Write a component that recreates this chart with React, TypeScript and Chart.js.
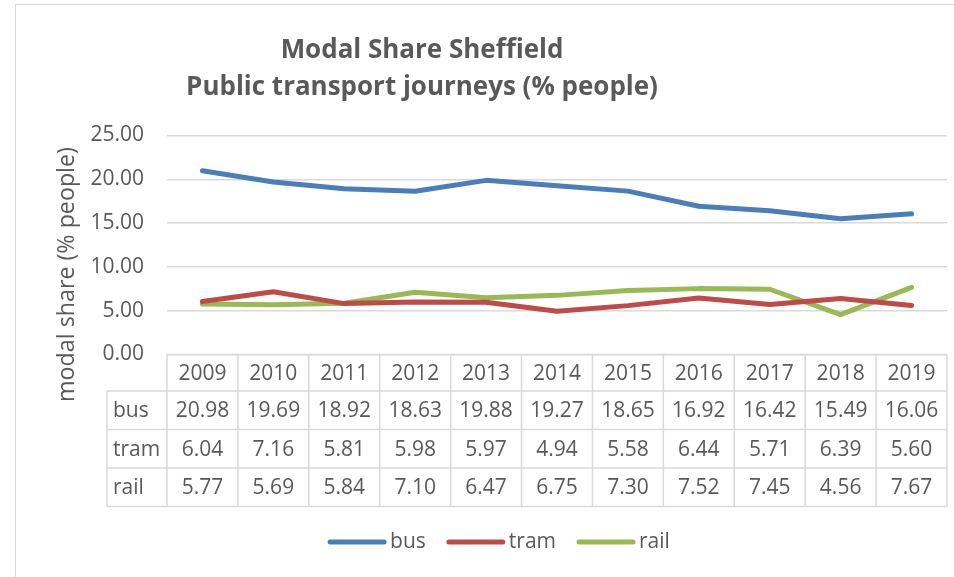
import React, { useEffect, useRef } from "react";
import { Chart, registerables } from "chart.js";

Chart.register(...registerables);

const years = ["2009", "2010", "2011", "2012", "2013", "2014", "2015", "2016", "2017", "2018", "2019"];
const bus = [20.98, 19.69, 18.92, 18.63, 19.88, 19.27, 18.65, 16.92, 16.42, 15.49, 16.06];
const tram = [6.04, 7.16, 5.81, 5.98, 5.97, 4.94, 5.58, 6.44, 5.71, 6.39, 5.6];
const rail = [5.77, 5.69, 5.84, 7.1, 6.47, 6.75, 7.3, 7.52, 7.45, 4.56, 7.67];
const seriesNames = ["bus", "tram", "rail"];
const seriesColors = ["#4A7EBB", "#BE4B48", "#98B954"];
const yMin = 0;
const yMax = 25;
const yStep = 5;
const titleLines = ["Modal Share Sheffield", "Public transport journeys (% people)"];
const yAxisTitle = "modal share (% people)";

const FONT = "'Open Sans', sans-serif";
const TEXT = "#595959";
const GRID = "#d9d9d9";

function fitSize(ctx: CanvasRenderingContext2D, text: string, weight: string, target: number) {
  ctx.font = `${weight} 100px ${FONT}`;
  const w = ctx.measureText(text).width;
  return (100 * target) / w;
}

const extrasPlugin = {
  id: "extras",
  afterDraw(chart: any) {
    const ctx: CanvasRenderingContext2D = chart.ctx;
    const area = chart.chartArea;
    const xs = chart.scales.x;
    const allSeries = [bus, tram, rail];
    ctx.save();

    // Title
    const tSize = fitSize(ctx, titleLines[1], "bold", 472);
    ctx.fillStyle = TEXT;
    ctx.textAlign = "center";
    ctx.textBaseline = "alphabetic";
    ctx.font = `bold ${tSize}px ${FONT}`;
    ctx.fillText(titleLines[0], 406, 53);
    ctx.fillText(titleLines[1], 406, 90);

    // Y axis title
    const ySize = fitSize(ctx, yAxisTitle, "normal", 255);
    ctx.save();
    ctx.translate(51, 269.5);
    ctx.rotate(-Math.PI / 2);
    ctx.font = `${ySize}px ${FONT}`;
    ctx.textBaseline = "middle";
    ctx.fillText(yAxisTitle, 0, 0);
    ctx.restore();

    // Data table
    const colW = xs.getPixelForValue(1) - xs.getPixelForValue(0);
    const headH = 36.5;
    const rowH = 38.5;
    const top = area.bottom;
    const headBottom = top + headH;
    const tableBottom = headBottom + rowH * allSeries.length;
    const labelLeft = area.left - 60;
    const right = xs.getPixelForValue(years.length - 1) + colW / 2;

    ctx.strokeStyle = GRID;
    ctx.lineWidth = 1.5;
    ctx.beginPath();
    ctx.moveTo(area.left, top);
    ctx.lineTo(right, top);
    for (let r = 0; r <= allSeries.length; r++) {
      const y = headBottom + r * rowH;
      ctx.moveTo(labelLeft, y);
      ctx.lineTo(right, y);
    }
    ctx.moveTo(labelLeft, headBottom);
    ctx.lineTo(labelLeft, tableBottom);
    for (let i = 0; i <= years.length; i++) {
      const x = xs.getPixelForValue(0) - colW / 2 + i * colW;
      ctx.moveTo(x, top);
      ctx.lineTo(x, tableBottom);
    }
    ctx.stroke();

    ctx.font = `21px ${FONT}`;
    ctx.fillStyle = TEXT;
    ctx.textBaseline = "middle";
    ctx.textAlign = "center";
    years.forEach((yr, i) => {
      ctx.fillText(yr, xs.getPixelForValue(i), top + headH / 2 + 1);
    });
    allSeries.forEach((vals, r) => {
      const cy = headBottom + r * rowH + rowH / 2 + 1;
      ctx.textAlign = "left";
      ctx.fillText(seriesNames[r], labelLeft + 6, cy);
      ctx.textAlign = "center";
      vals.forEach((v, i) => {
        ctx.fillText(v.toFixed(2), xs.getPixelForValue(i), cy);
      });
    });

    // Legend
    const lineLen = 58;
    const gap = 4;
    const itemGap = 21;
    ctx.font = `21px ${FONT}`;
    const widths = seriesNames.map((n) => lineLen + gap + ctx.measureText(n).width);
    const total = widths.reduce((a, b) => a + b, 0) + itemGap * (seriesNames.length - 1);
    let lx = 483 - total / 2;
    const ly = 537;
    seriesNames.forEach((n, i) => {
      ctx.strokeStyle = seriesColors[i];
      ctx.lineWidth = 5;
      ctx.lineCap = "round";
      ctx.beginPath();
      ctx.moveTo(lx + 2, ly);
      ctx.lineTo(lx + lineLen - 2, ly);
      ctx.stroke();
      ctx.fillStyle = TEXT;
      ctx.textAlign = "left";
      ctx.textBaseline = "middle";
      ctx.fillText(n, lx + lineLen + gap, ly);
      lx += widths[i] + itemGap;
    });

    ctx.restore();
  },
};

export default function App() {
  const ref = useRef<HTMLCanvasElement>(null);
  useEffect(() => {
    if (!ref.current) return;
    const data = [bus, tram, rail];
    const chart = new Chart(ref.current, {
      type: "line",
      data: {
        labels: years,
        datasets: seriesNames.map((n, i) => ({
          label: n,
          data: data[i],
          borderColor: seriesColors[i],
          backgroundColor: seriesColors[i],
          borderWidth: 5,
          pointRadius: 0,
          borderCapStyle: "round",
          borderJoinStyle: "round",
          tension: 0,
          clip: false,
        })),
      },
      options: {
        responsive: false,
        animation: false,
        devicePixelRatio: 1,
        layout: { padding: { top: 130.5, bottom: 222.5, left: 0, right: 7 } },
        plugins: {
          legend: { display: false },
          title: { display: false },
          tooltip: { enabled: false },
        },
        scales: {
          x: { display: false, offset: true },
          y: {
            min: yMin,
            max: yMax,
            ticks: {
              stepSize: yStep,
              callback: (v: any) => Number(v).toFixed(2),
              padding: 23,
              color: TEXT,
              font: { family: FONT, size: 21 },
            },
            grid: { color: GRID, lineWidth: 1.5, drawTicks: false },
            border: { display: false },
            afterFit: (s: any) => {
              s.width = 151;
            },
          },
        },
      },
      plugins: [extrasPlugin],
    } as any);
    return () => chart.destroy();
  }, []);

  return (
    <div
      style={{
        position: "absolute",
        left: 15,
        top: 4,
        width: 939,
        height: 573,
        borderLeft: "1px solid #d9d9d9",
        borderTop: "1px solid #d9d9d9",
        background: "#fff",
        overflow: "hidden",
      }}
    >
      <canvas ref={ref} width={938} height={572} style={{ display: "block", width: 938, height: 572 }} />
    </div>
  );
}
